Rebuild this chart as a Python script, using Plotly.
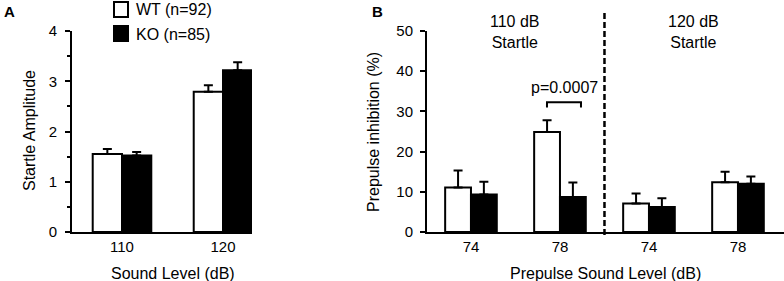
import plotly.graph_objects as go

# ---- Data ----
a_levels = ["110", "120"]
a_wt = [1.55, 2.79]
a_wt_err = [0.10, 0.13]
a_ko = [1.52, 3.22]
a_ko_err = [0.07, 0.16]

b_levels = ["74", "78", "74", "78"]
b_wt = [11.1, 24.9, 7.1, 12.4]
b_wt_err = [4.2, 2.9, 2.5, 2.6]
b_ko = [9.3, 8.7, 6.2, 12.0]
b_ko_err = [3.2, 3.6, 2.2, 1.8]

startle_labels = ["110 dB<br>Startle", "120 dB<br>Startle"]
p_label = "p=0.0007"
legend_labels = ["WT (n=92)", "KO (n=85)"]

FONT = "Liberation Sans, Arial, Helvetica, sans-serif"
W, H = 784, 281

def px_x(p):
    return p / W

def px_y(p):
    return (H - p) / H

ya_dom = [px_y(232), px_y(31)]

fig = go.Figure()

xa = list(range(len(a_levels)))
xb = list(range(len(b_levels)))

def err(arr):
    return dict(type="data", array=arr, arrayminus=[0] * len(arr), symmetric=False,
                color="black", thickness=2, width=4.5)

fig.add_trace(go.Bar(x=xa, y=a_wt, error_y=err(a_wt_err), name=legend_labels[0],
                     marker=dict(color="white", line=dict(color="black", width=2)),
                     xaxis="x", yaxis="y", showlegend=False))
fig.add_trace(go.Bar(x=xa, y=a_ko, error_y=err(a_ko_err), name=legend_labels[1],
                     marker=dict(color="black", line=dict(color="black", width=2)),
                     xaxis="x", yaxis="y", showlegend=False))
fig.add_trace(go.Bar(x=xb, y=b_wt, error_y=err(b_wt_err), name=legend_labels[0],
                     marker=dict(color="white", line=dict(color="black", width=2)),
                     xaxis="x2", yaxis="y2", showlegend=False))
fig.add_trace(go.Bar(x=xb, y=b_ko, error_y=err(b_ko_err), name=legend_labels[1],
                     marker=dict(color="black", line=dict(color="black", width=2)),
                     xaxis="x2", yaxis="y2", showlegend=False))

axis_common = dict(showgrid=False, zeroline=False, showline=True, linecolor="black",
                   linewidth=2, tickfont=dict(family=FONT, size=15, color="black"))

fig.update_layout(
    width=W, height=H,
    margin=dict(l=0, r=0, t=0, b=0, autoexpand=False),
    paper_bgcolor="white", plot_bgcolor="white",
    barmode="group", bargap=0.42, bargroupgap=0,
    font=dict(family=FONT, size=15, color="black"),
    xaxis=dict(domain=[px_x(72), px_x(252)], range=[-0.495, 1.287],
               tickvals=xa, ticktext=a_levels, ticks="", anchor="y", **axis_common),
    yaxis=dict(domain=ya_dom, range=[0, 4], dtick=1, ticks="outside", ticklen=5,
               tickwidth=2, tickcolor="black", anchor="x", ticklabelstandoff=5,
               minor=dict(dtick=0.5, ticks="outside", ticklen=3, tickwidth=2, tickcolor="black"),
               **axis_common),
    xaxis2=dict(domain=[px_x(427), 1.0], range=[-0.494, 3.517],
                tickvals=xb, ticktext=b_levels, ticks="", anchor="y2", **axis_common),
    yaxis2=dict(domain=ya_dom, range=[0, 50], dtick=10, ticks="outside", ticklen=5,
                tickwidth=2, tickcolor="black", anchor="x2", ticklabelstandoff=4, **axis_common),
)

def A(text, x, y, xref="paper", yref="paper", xanchor="center", size=16, angle=0):
    return dict(text=text, x=x, y=y, xref=xref, yref=yref, xanchor=xanchor,
                yanchor="middle", textangle=angle, showarrow=False, font=dict(size=size))

ann = [
    A("Startle Amplitude", px_x(29), px_y(131), angle=-90),
    A("Sound Level (dB)", px_x(173), px_y(273)),
    A("Prepulse inhibition (%)", px_x(373), px_y(132), angle=-90),
    A("Prepulse Sound Level (dB)", px_x(605), px_y(273)),
    A("<b>A</b>", px_x(2), px_y(12), xanchor="left", size=15),
    A("<b>B</b>", px_x(370), px_y(12), xanchor="left", size=15),
    A(startle_labels[0], 0.5, px_y(32), xref="x2"),
    A(startle_labels[1], 2.5, px_y(32), xref="x2"),
    A(p_label, 1.05, px_y(87), xref="x2"),
    A(legend_labels[0], px_x(134), px_y(9), xanchor="left"),
    A(legend_labels[1], px_x(134), px_y(34), xanchor="left"),
]
fig.update_layout(annotations=ann)

shapes = []
# legend boxes
shapes.append(dict(type="rect", xref="paper", yref="paper", x0=px_x(114), x1=px_x(128),
                   y0=px_y(17), y1=px_y(2), fillcolor="white", line=dict(color="black", width=2)))
shapes.append(dict(type="rect", xref="paper", yref="paper", x0=px_x(114), x1=px_x(128),
                   y0=px_y(41), y1=px_y(26), fillcolor="black", line=dict(color="black", width=2)))
# dashed separator
shapes.append(dict(type="line", xref="x2", yref="paper", x0=1.5, x1=1.5,
                   y0=px_y(235), y1=px_y(10), line=dict(color="black", width=2.5, dash="6px,3px")))
# significance bracket
shapes.append(dict(type="path", xref="x2", yref="y2",
                   path="M 0.854 31.0 L 0.854 32.3 L 1.236 32.3 L 1.236 31.0",
                   line=dict(color="black", width=2)))
fig.update_layout(shapes=shapes)

fig.write_html("out.html", config={"displayModeBar": False},
               post_script="document.body.style.margin='0px';")
